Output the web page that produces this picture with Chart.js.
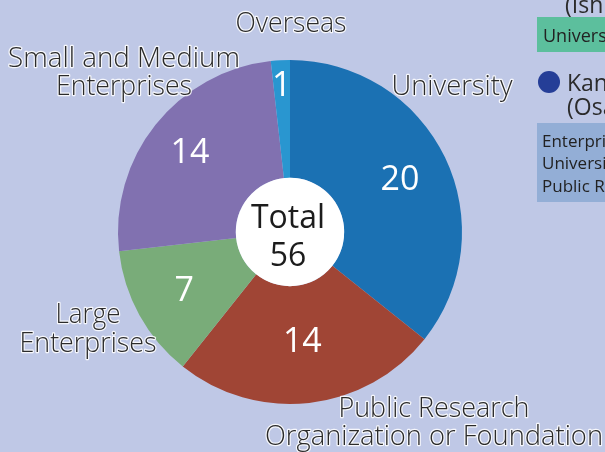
<!DOCTYPE html>
<html>
<head>
<meta charset="utf-8">
<script src="https://cdn.jsdelivr.net/npm/chart.js@4.4.1/dist/chart.umd.min.js"></script>
<style>
    html, body {margin: 0; padding: 0; background: #bfc8e6; overflow: hidden;}
    #wrap {position: relative; width: 605px; height: 452px;}
</style>
</head>
<body>
<div id="wrap"><canvas id="myChart" width="605" height="452"></canvas></div>
<script>
const categories = ['University', 'Public Research Organization or Foundation', 'Large Enterprises', 'Small and Medium Enterprises', 'Overseas'];
const values = [20, 14, 7, 14, 1];
const colors = ['#1b71b3', '#a04535', '#79ac79', '#8171b0', '#2996d0'];
const totalLabel = 'Total';

// how the category names are broken and where they sit outside the ring
const labelLines = [
    ['University'],
    ['Public Research', 'Organization or Foundation'],
    ['Large', 'Enterprises'],
    ['Small and Medium', 'Enterprises'],
    ['Overseas']
];
const labelPos = [
    {x: 452, y: [95], w: [121]},
    {x: 434, y: [417, 445], w: [191, 338]},
    {x: 88, y: [323, 352], w: [65, 137]},
    {x: 124, y: [67, 95], w: [232, 136]},
    {x: 291, y: [32], w: [111]}
];
// distance of each value from the centre, in px
const valueRadius = [122, 110, 121, 128, 147];

const outerText = function (ctx, txt, x, y, w) {
    ctx.save();
    ctx.font = '300 28px "Open Sans"';
    ctx.textAlign = 'center';
    ctx.textBaseline = 'alphabetic';
    ctx.lineJoin = 'round';
    ctx.lineWidth = 2.5;
    ctx.strokeStyle = 'rgba(255,255,255,0.85)';
    ctx.strokeText(txt, x, y, w);
    ctx.fillStyle = '#2b2b2b';
    ctx.fillText(txt, x, y, w);
    ctx.restore();
};

const labelsPlugin = {
    id: 'labelsPlugin',
    afterDatasetsDraw(chart) {
        const ctx = chart.ctx, meta = chart.getDatasetMeta(0);
        const arc0 = meta.data[0], cx = arc0.x, cy = arc0.y;

        // white centre disc
        ctx.save();
        ctx.beginPath();
        ctx.arc(cx, cy, arc0.innerRadius, 0, Math.PI * 2);
        ctx.fillStyle = '#ffffff';
        ctx.fill();

        ctx.fillStyle = '#1c1c1c';
        ctx.textAlign = 'center';
        ctx.font = '32px "Open Sans"';
        ctx.fillText(totalLabel, cx - 2, cy - 4);
        const total = values.reduce((a, b) => a + b, 0);
        ctx.fillText(String(total), cx - 2, cy + 34);

        // values inside the slices
        ctx.font = '34px "Open Sans"';
        ctx.fillStyle = '#ffffff';
        ctx.textBaseline = 'middle';
        meta.data.forEach(function (arc, i) {
            const a = (arc.startAngle + arc.endAngle) / 2;
            ctx.fillText(String(values[i]), cx + Math.cos(a) * valueRadius[i], cy + Math.sin(a) * valueRadius[i] + 1);
        });
        ctx.restore();

        // category names
        labelLines.forEach(function (lines, i) {
            lines.forEach(function (t, j) {
                outerText(ctx, t, labelPos[i].x, labelPos[i].y[j], labelPos[i].w[j]);
            });
        });

        // neighbouring legend panel, cut by the right edge
        ctx.save();
        ctx.fillStyle = '#2b2b2b';
        ctx.font = '23px "Open Sans"';
        ctx.fillText('(Ishikawa)', 565, 13);

        ctx.fillStyle = '#5cbf9d';
        ctx.fillRect(537, 17, 80, 35);
        ctx.fillStyle = '#222222';
        ctx.font = '18px "Open Sans"';
        ctx.fillText('University', 543, 42);

        ctx.beginPath();
        ctx.arc(549, 82, 11, 0, Math.PI * 2);
        ctx.fillStyle = '#253e97';
        ctx.fill();
        ctx.fillStyle = '#2b2b2b';
        ctx.font = '23px "Open Sans"';
        ctx.fillText('Kansai', 567, 91);
        ctx.fillText('(Osaka)', 567, 115);

        ctx.fillStyle = '#93aed6';
        ctx.fillRect(537, 123, 80, 79);
        ctx.fillStyle = '#222222';
        ctx.font = '17px "Open Sans"';
        ctx.fillText('Enterprises', 542, 147);
        ctx.fillText('University', 542, 169);
        ctx.fillText('Public Research', 542, 192);
        ctx.restore();
    }
};

const myChart = new Chart(document.getElementById('myChart'), {
    type: 'doughnut',
    plugins: [labelsPlugin],
    data: {
        labels: categories,
        datasets: [{
            data: values,
            backgroundColor: colors,
            borderWidth: 0
        }]
    },
    options: {
        responsive: false,
        animation: false,
        cutout: '31.5%',
        layout: {padding: {left: 118, right: 143, top: 60, bottom: 48}},
        plugins: {legend: {display: false}, tooltip: {enabled: false}}
    }
});
</script>
</body>
</html>
